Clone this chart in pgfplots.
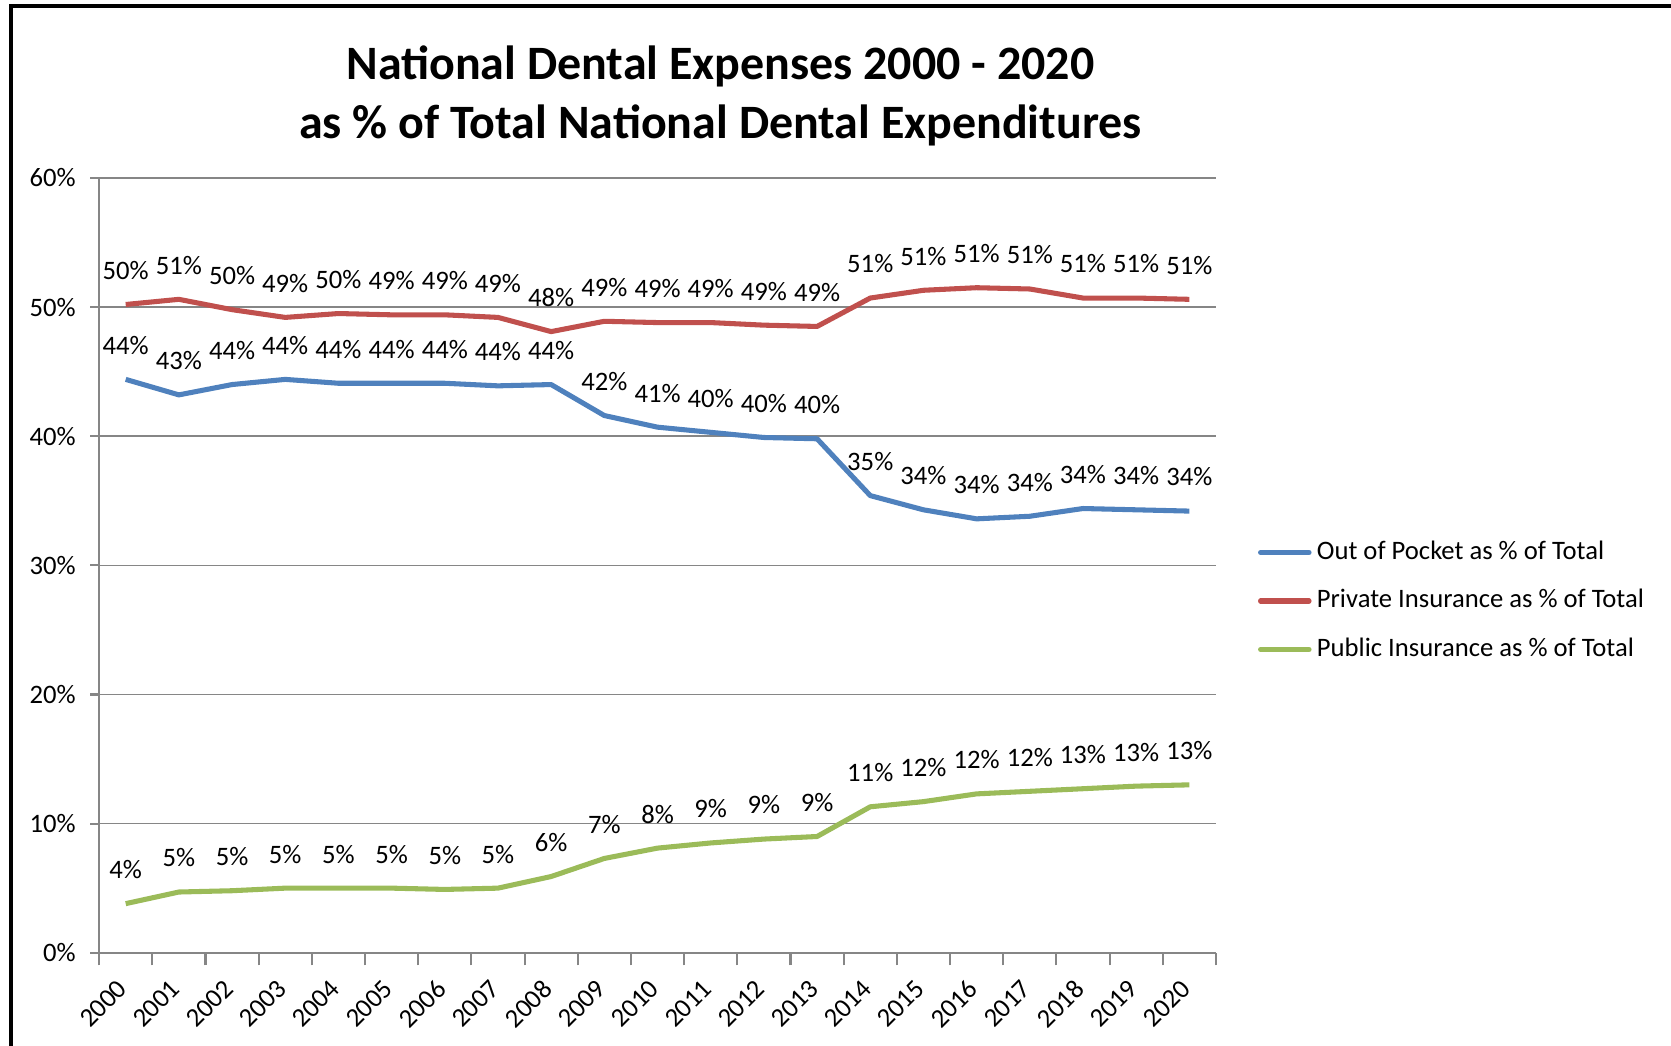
\documentclass[border=0pt]{standalone}
\usepackage{pgfplots}
\usepackage{pgfplotstable}
\pgfplotsset{compat=1.18}
\usepackage{fontspec}
\setmainfont{Carlito}
\definecolor{oopc}{HTML}{4F81BD}
\definecolor{pric}{HTML}{C0504D}
\definecolor{pubc}{HTML}{9BBB59}
\definecolor{axgray}{HTML}{868686}
\newcommand\lbl{\fontsize{10}{12}\selectfont}
\pgfplotstableread{
x oop oopl pri pril pub publ
0  44.4 44 50.2 50 3.8  4
1  43.2 43 50.6 51 4.7  5
2  44.0 44 49.8 50 4.8  5
3  44.4 44 49.2 49 5.0  5
4  44.1 44 49.5 50 5.0  5
5  44.1 44 49.4 49 5.0  5
6  44.1 44 49.4 49 4.9  5
7  43.9 44 49.2 49 5.0  5
8  44.0 44 48.1 48 5.9  6
9  41.6 42 48.9 49 7.3  7
10 40.7 41 48.8 49 8.1  8
11 40.3 40 48.8 49 8.5  9
12 39.9 40 48.6 49 8.8  9
13 39.8 40 48.5 49 9.0  9
14 35.4 35 50.7 51 11.3 11
15 34.3 34 51.3 51 11.7 12
16 33.6 34 51.5 51 12.3 12
17 33.8 34 51.4 51 12.5 12
18 34.4 34 50.7 51 12.7 13
19 34.3 34 50.7 51 12.9 13
20 34.2 34 50.6 51 13.0 13
}\data
\begin{document}
\begin{tikzpicture}
\useasboundingbox (0pt,0pt) rectangle (627.2pt,392.4pt);
\draw[line width=1.6pt, black] (4pt,-20pt) -- (4pt,390.2pt) -- (660pt,390.2pt);
\node[anchor=base, font=\fontsize{18}{22}\selectfont\bfseries] at (270.4pt,362.4pt) {National Dental Expenses 2000 - 2020};
\node[anchor=base, font=\fontsize{18}{22}\selectfont\bfseries] at (270.4pt,340.4pt) {as \% of Total National Dental Expenditures};
\begin{axis}[
  at={(37.2pt,34.8pt)}, anchor=south west,
  scale only axis, width=419.2pt, height=290.8pt,
  xmin=-0.5, xmax=20.5, ymin=0, ymax=60,
  clip=false,
  axis x line*=bottom, axis y line*=left,
  axis line style={axgray, line width=0.8pt},
  ytick={0,10,...,60},
  yticklabels={0\%,10\%,20\%,30\%,40\%,50\%,60\%},
  ymajorgrids, grid style={axgray, line width=0.6pt},
  xtick={0,...,20},
  xticklabels={2000,2001,2002,2003,2004,2005,2006,2007,2008,2009,2010,2011,2012,2013,2014,2015,2016,2017,2018,2019,2020},
  major x tick style={draw=none},
  minor xtick={-0.5,0.5,...,20.5},
  tick align=outside,
  major tick length=3.3pt, minor tick length=4.8pt,
  tick style={axgray, line width=0.8pt},
  tick label style={font=\lbl, black},
  yticklabel style={xshift=-2pt},
  xticklabel style={xshift=1.2pt, yshift=-6.2pt, rotate=45, anchor=east},
  legend cell align=left,
  legend style={at={(1.0372,0.454)}, anchor=west, draw=none, fill=none, inner sep=0pt,
    font=\lbl, nodes={inner sep=0pt, text height=7pt, text depth=2pt},
    row sep=9.2pt, /tikz/every odd column/.append style={column sep=2pt}},
  legend image code/.code={\draw[#1, line cap=round] (0.9pt,0pt) -- (19.1pt,0pt);},
  every node near coord/.append style={black, font=\lbl, anchor=center, yshift=12.8pt},
  point meta=explicit symbolic,
  nodes near coords={\pgfplotspointmeta\%},
]
\addplot[oopc, line width=1.9pt, line join=round] table[x=x, y=oop, meta=oopl]{\data};
\addlegendentry{Out of Pocket as \% of Total}
\addplot[pric, line width=1.9pt, line join=round] table[x=x, y=pri, meta=pril]{\data};
\addlegendentry{Private Insurance as \% of Total}
\addplot[pubc, line width=1.9pt, line join=round] table[x=x, y=pub, meta=publ]{\data};
\addlegendentry{Public Insurance as \% of Total}
\end{axis}
\end{tikzpicture}
\end{document}
